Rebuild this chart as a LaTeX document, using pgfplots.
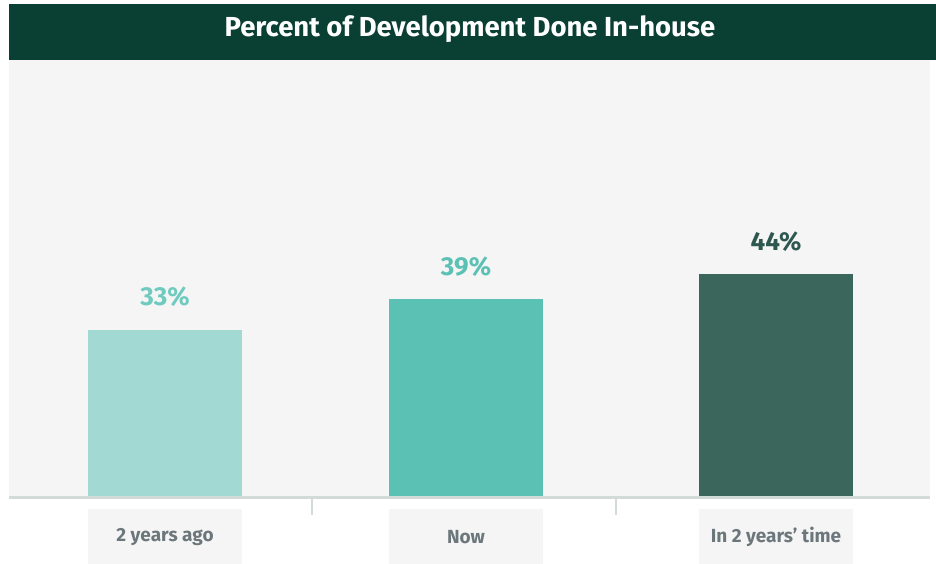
\documentclass[border=0pt]{standalone}
\usepackage{pgfplots}
\pgfplotsset{compat=1.18}
\usepackage{fontspec}
\setmainfont{Fira Sans}
\definecolor{titlebg}{HTML}{0A3F34}
\definecolor{plotbg}{HTML}{F5F5F5}
\definecolor{barA}{HTML}{A3D9D3}
\definecolor{barB}{HTML}{5CC1B5}
\definecolor{barC}{HTML}{3B665C}
\definecolor{labA}{HTML}{6FCBBF}
\definecolor{labB}{HTML}{5CC1B5}
\definecolor{labC}{HTML}{2E584F}
\definecolor{axisgray}{HTML}{D3DBD9}
\definecolor{catgray}{HTML}{6C777C}
\begin{document}
\begin{tikzpicture}[x=1pt,y=1pt]
\fill[white] (0,0) rectangle (936,564);
\fill[titlebg] (9,504) rectangle (936,560);
\node[text=white,font=\fontsize{27.5}{32}\selectfont\bfseries] at (470,535) {Percent of Development Done In-house};
\fill[plotbg] (9,65) rectangle (930,504);
% label boxes
\fill[plotbg] (88,0) rectangle (242,55);
\fill[plotbg] (389,0) rectangle (543,55);
\fill[plotbg] (699,0) rectangle (853,55);
\node[text=catgray,font=\fontsize{19}{23}\selectfont\bfseries] at (165,27) {2 years ago};
\node[text=catgray,font=\fontsize{19}{23}\selectfont\bfseries] at (466,27) {Now};
\node[text=catgray,font=\fontsize{19}{23}\selectfont\bfseries] at (776,27) {In 2 years’ time};
\begin{axis}[
  at={(9pt,68pt)}, anchor=south west,
  scale only axis, width=921pt, height=436pt,
  xmin=9, xmax=930, ymin=0, ymax=86.5,
  hide axis, clip=false,
  ybar, bar width=154, bar shift=0pt,
  /pgf/number format/assume math mode=true,
  nodes near coords={\pgfmathprintnumber{\pgfplotspointmeta}\%},
  every node near coord/.append style={anchor=base, yshift=24pt, font=\fontsize{26}{30}\selectfont\bfseries},
]
\addplot[fill=barA, draw=none, bar shift=0pt, nodes near coords style={text=labA}] coordinates {(165,33)};
\addplot[fill=barB, draw=none, bar shift=0pt, nodes near coords style={text=labB}] coordinates {(466,39)};
\addplot[fill=barC, draw=none, bar shift=0pt, nodes near coords style={text=labC}] coordinates {(776,44)};
\end{axis}
\fill[axisgray] (9,65) rectangle (930,68);
\fill[axisgray] (311,49) rectangle (313,65);
\fill[axisgray] (615,49) rectangle (617,65);
\end{tikzpicture}
\end{document}
